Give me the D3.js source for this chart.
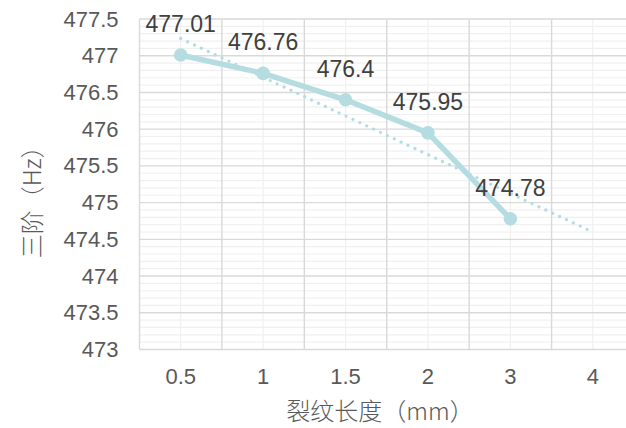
<!DOCTYPE html>
<html>
<head>
<meta charset="utf-8">
<script src="https://cdn.jsdelivr.net/npm/d3@7"></script>
<style>
  html, body { margin: 0; padding: 0; background: #fff; }
  svg { display: block; }
</style>
</head>
<body>
<svg id="chart" width="626" height="428"></svg>
<script>
// Crack length categories (mm) and third-order frequency (Hz)
const categories = ["0.5", "1", "1.5", "2", "3", "4"];
const frequencies = [477.01, 476.76, 476.4, 475.95, 474.78];
const yTicks = [473, 473.5, 474, 474.5, 475, 475.5, 476, 476.5, 477, 477.5];
const yDomain = [473, 477.5];

const lineColor = "#b5dde1";
const svg = d3.select("#chart");
const plotLeft = 139.5, plotRight = 634, plotTop = 19, plotBottom = 349.5;

const x = d3.scaleBand().domain(categories).range([plotLeft, plotRight]).padding(0);
const y = d3.scaleLinear().domain(yDomain).range([plotBottom, plotTop]);

const grid = svg.append("g");
// minor horizontal gridlines every 0.1
const minorY = d3.range(0, 46).map(i => yDomain[0] + i * 0.1).filter((v, i) => i % 5 !== 0);
grid.selectAll(".minor-h").data(minorY).join("line")
  .attr("x1", plotLeft).attr("x2", plotRight)
  .attr("y1", d => y(d)).attr("y2", d => y(d))
  .attr("stroke", "#f0f0f0").attr("stroke-width", 1.2);
// minor vertical gridlines at category centres
grid.selectAll(".minor-v").data(categories).join("line")
  .attr("x1", d => x(d) + x.bandwidth() / 2).attr("x2", d => x(d) + x.bandwidth() / 2)
  .attr("y1", plotTop).attr("y2", plotBottom)
  .attr("stroke", "#f0f0f0").attr("stroke-width", 1.2);
// major horizontal gridlines
grid.selectAll(".major-h").data(yTicks).join("line")
  .attr("x1", plotLeft).attr("x2", plotRight)
  .attr("y1", d => y(d)).attr("y2", d => y(d))
  .attr("stroke", "#d9d9d9").attr("stroke-width", 1.4);
// major vertical gridlines at category boundaries
grid.selectAll(".major-v").data(categories).join("line")
  .attr("x1", d => x(d)).attr("x2", d => x(d))
  .attr("y1", plotTop).attr("y2", plotBottom)
  .attr("stroke", "#d9d9d9").attr("stroke-width", 1.4);

// Y axis tick labels
const yAxis = d3.axisLeft(y).tickValues(yTicks).tickSize(0).tickPadding(21)
  .tickFormat(d => String(+d.toFixed(1)));
const ya = svg.append("g").attr("transform", `translate(${plotLeft},0)`).call(yAxis);
ya.select(".domain").remove();
ya.selectAll("text").attr("font-family", "Liberation Sans, Arial, sans-serif")
  .attr("font-size", 22).attr("fill", "#595959");

// X axis tick labels
const xAxis = d3.axisBottom(x).tickSize(0).tickPadding(19);
const xa = svg.append("g").attr("transform", `translate(0,${plotBottom})`).call(xAxis);
xa.select(".domain").remove();
xa.selectAll("text").attr("font-family", "Liberation Sans, Arial, sans-serif")
  .attr("font-size", 22).attr("fill", "#595959");

// Linear trendline fitted over category index (1..n), extended to all categories
const xs = frequencies.map((_, i) => i + 1);
const mx = d3.mean(xs), my = d3.mean(frequencies);
const slope = d3.sum(xs, (v, i) => (v - mx) * (frequencies[i] - my)) / d3.sum(xs, v => (v - mx) ** 2);
const intercept = my - slope * mx;
const cx = i => x(categories[i]) + x.bandwidth() / 2;
svg.append("line")
  .attr("x1", cx(0)).attr("y1", y(intercept + slope * 1))
  .attr("x2", cx(categories.length - 1)).attr("y2", y(intercept + slope * categories.length))
  .attr("stroke", lineColor).attr("stroke-width", 3.2)
  .attr("stroke-linecap", "round").attr("stroke-dasharray", "0.01 7.6");

// Data series line and markers
const line = d3.line().x((d, i) => cx(i)).y(d => y(d));
svg.append("path").datum(frequencies)
  .attr("d", line).attr("fill", "none")
  .attr("stroke", lineColor).attr("stroke-width", 5.5).attr("stroke-linejoin", "round");
svg.selectAll(".pt").data(frequencies).join("circle")
  .attr("cx", (d, i) => cx(i)).attr("cy", d => y(d)).attr("r", 6.8)
  .attr("fill", lineColor);

// Value labels
svg.selectAll(".lbl").data(frequencies).join("text")
  .attr("x", (d, i) => cx(i)).attr("y", d => y(d) - 23)
  .attr("text-anchor", "middle")
  .attr("font-family", "Liberation Sans, Arial, sans-serif")
  .attr("font-size", 23).attr("fill", "#404040")
  .text(d => d);

// Axis titles
svg.append("text")
  .attr("transform", `translate(41,${(plotTop + plotBottom) / 2 + 12}) rotate(-90)`)
  .attr("text-anchor", "middle")
  .attr("font-family", "Noto Sans CJK SC, sans-serif").attr("font-weight", 300)
  .attr("font-size", 24).attr("fill", "#595959")
  .text("三阶（Hz）");
svg.append("text")
  .attr("x", 380).attr("y", 420)
  .attr("text-anchor", "middle")
  .attr("font-family", "Noto Sans CJK SC, sans-serif").attr("font-weight", 300)
  .attr("font-size", 24).attr("fill", "#595959")
  .text("裂纹长度（mm）");
</script>
</body>
</html>
